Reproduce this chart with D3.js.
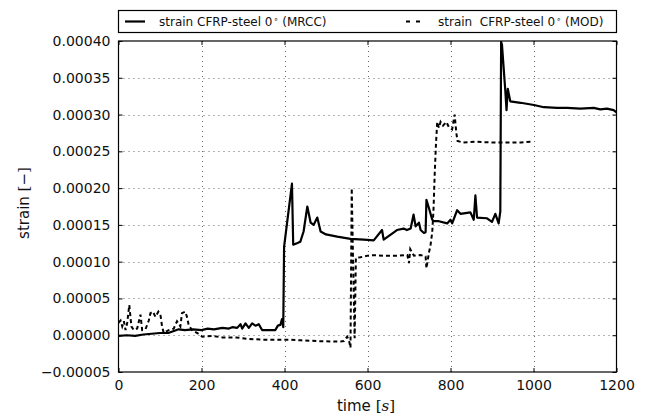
<!DOCTYPE html>
<html lang="en">
<head>
<meta charset="UTF-8"/>
<title>strain CFRP-steel</title>
<script src="https://d3js.org/d3.v7.min.js"></script>
<style>
  body { margin: 0; background: #fff; }
  svg { font-family: "DejaVu Sans", sans-serif; }
</style>
</head>
<body>
<script>
// MRCC series (solid)
var mrccTime = [0, 20, 40, 60, 80, 100, 120, 130, 145, 160, 180, 200, 215, 230, 250, 266, 274, 286, 294, 298,
    306, 314, 322, 330, 338, 346, 378, 384, 390, 394, 397, 399, 418, 421, 430, 438, 446, 455, 463, 470,
    479, 487, 500, 527, 559, 591, 615, 635, 639, 671, 687, 695, 704, 711, 716, 724, 728, 736, 740, 742,
    748, 756, 760, 772, 792, 800, 804, 816, 824, 848, 856, 860, 864, 888, 900, 908, 916, 920, 922, 924,
    932, 935, 938, 944, 969, 1001, 1025, 1057, 1081, 1113, 1145, 1161, 1177, 1193, 1200];
var mrccStrain = [-0.000001, 0.0, -0.000001, 0.000001, 0.000002, 0.000003, 0.000003, 0.000005, 0.000008, 0.000007,
    0.000008, 0.000007, 0.000009, 0.000008, 0.00001, 0.000009, 0.000011, 0.00001, 0.000015, 0.000009,
    0.000016, 0.00001, 0.000016, 0.000013, 0.000015, 0.000007, 0.000007, 0.000013, 0.000014, 0.000022,
    0.000011, 0.00012, 0.000206, 0.000123, 0.000125, 0.000127, 0.000141, 0.000175, 0.000153, 0.00015,
    0.00016, 0.000141, 0.000137, 0.000134, 0.000131, 0.00013, 0.000129, 0.000143, 0.00013, 0.000143,
    0.000145, 0.000143, 0.000145, 0.000164, 0.000148, 0.000153, 0.000143, 0.000139, 0.00014, 0.000184,
    0.000173, 0.000157, 0.000155, 0.000155, 0.000152, 0.000157, 0.000152, 0.00017, 0.000165, 0.000167,
    0.000157, 0.00019, 0.00016, 0.000159, 0.000154, 0.000165, 0.000152, 0.000168, 0.000399, 0.000395,
    0.000333, 0.000306, 0.000335, 0.000318, 0.000316, 0.000313, 0.00031, 0.000309, 0.000309, 0.000308,
    0.000309, 0.000307, 0.000308, 0.000306, 0.000303];

// MOD series (dashed)
var modTime = [0, 5, 9, 13, 17, 21, 26, 31, 37, 45, 53, 57, 65, 73, 77, 83, 89, 96, 101, 105,
    109, 121, 133, 141, 149, 153, 161, 165, 169, 177, 190, 202, 226, 250, 282, 314, 346, 378, 410, 440,
    480, 519, 535, 543, 551, 555, 559, 562, 565, 569, 572, 583, 607, 639, 672, 696, 700, 703, 712, 728,
    740, 742, 748, 752, 756, 759, 762, 765, 768, 772, 776, 782, 790, 796, 804, 810, 814, 817, 830, 860,
    900, 940, 970, 993];
var modStrain = [0.000017, 0.00002, 0.000012, 0.000019, 0.000007, 0.000017, 0.000041, 0.000012, 0.000007, 0.000009,
    0.000028, 0.000007, 0.000008, 0.00002, 0.00003, 0.000032, 0.000025, 0.000032, 0.000028, 0.000012,
    0.000003, 0.000007, 0.000009, 0.000019, 0.000012, 0.00003, 0.000032, 0.000025, 0.000014, 0.000007,
    0.000003, -0.000002, -0.000001, -0.000003, -0.000003, -0.000005, -0.000006, -0.000006, -0.000006, -0.000007,
    -0.000008, -0.0000085, -0.0000085, -0.000008, -0.000002, -0.000006, -0.000017, 0.0002, 0.000107, -0.000004,
    0.000105, 0.000106, 0.000109, 0.000108, 0.000108, 0.000109, 0.000098, 0.000117, 0.000108, 0.000109,
    0.000107, 0.000091, 0.000112, 0.000123, 0.00014, 0.00017, 0.00022, 0.00026, 0.00029, 0.000282,
    0.00029, 0.000285, 0.00029, 0.000283, 0.00028, 0.0003, 0.000275, 0.000264, 0.000262, 0.000263,
    0.000262, 0.000262, 0.000262, 0.000263];

var xTicks = [0, 200, 400, 600, 800, 1000, 1200];
var yTicks = [-0.00005, 0, 0.00005, 0.0001, 0.00015, 0.0002, 0.00025, 0.0003, 0.00035, 0.0004];

var w = 646, h = 418;
var plotLeft = 118.5, plotRight = 616.5, plotTop = 41, plotBottom = 372;

var xScale = d3.scaleLinear().domain([0, 1200]).range([plotLeft, plotRight]);
var yScale = d3.scaleLinear().domain([-0.00005, 0.0004]).range([plotBottom, plotTop]);

var svg = d3.select("body").append("svg")
    .attr("width", w)
    .attr("height", h);

/* grid */
var grid = svg.append("g").attr("stroke", "#666").attr("stroke-width", 1).attr("stroke-dasharray", "1,4");
grid.selectAll(".gx").data(xTicks.slice(1, -1)).enter().append("line")
    .attr("x1", d => Math.round(xScale(d)) + 0.5).attr("x2", d => Math.round(xScale(d)) + 0.5)
    .attr("y1", plotTop).attr("y2", plotBottom);
grid.selectAll(".gy").data(yTicks.slice(1, -1)).enter().append("line")
    .attr("y1", d => Math.round(yScale(d)) + 0.5).attr("y2", d => Math.round(yScale(d)) + 0.5)
    .attr("x1", plotLeft).attr("x2", plotRight);

/* series */
svg.append("clipPath").attr("id", "clip").append("rect")
    .attr("x", plotLeft).attr("y", plotTop).attr("width", plotRight - plotLeft).attr("height", plotBottom - plotTop);
var plot = svg.append("g").attr("clip-path", "url(#clip)");

var line = d3.line()
    .x(d => xScale(d[0]))
    .y(d => yScale(d[1]));

plot.append("path")
    .datum(modTime.map((t, i) => [t, modStrain[i]]))
    .attr("d", line)
    .attr("fill", "none")
    .attr("stroke", "#000")
    .attr("stroke-width", 2)
    .attr("stroke-dasharray", "4,3");

plot.append("path")
    .datum(mrccTime.map((t, i) => [t, mrccStrain[i]]))
    .attr("d", line)
    .attr("fill", "none")
    .attr("stroke", "#000")
    .attr("stroke-width", 2.2)
    .attr("stroke-linejoin", "round");

/* axes */
var fmt = d3.format(".5f");
var axisFont = "14px";

svg.append("g")
    .attr("transform", "translate(0," + plotBottom + ")")
    .call(d3.axisBottom(xScale).tickValues(xTicks).tickSize(-4).tickPadding(8).tickFormat(d3.format("d")))
    .call(g => g.select(".domain").remove())
    .selectAll("text").attr("font-size", axisFont).attr("fill", "#111").attr("font-family", "DejaVu Sans");

svg.append("g")
    .attr("transform", "translate(0," + plotTop + ")")
    .call(d3.axisTop(xScale).tickValues(xTicks).tickSize(-4).tickFormat(""))
    .call(g => g.select(".domain").remove());

svg.append("g")
    .attr("transform", "translate(" + plotLeft + ",0)")
    .call(d3.axisLeft(yScale).tickValues(yTicks).tickSize(-4).tickPadding(8).tickFormat(d => fmt(d).replace("-", "\u2212")))
    .call(g => g.select(".domain").remove())
    .selectAll("text").attr("font-size", axisFont).attr("fill", "#111").attr("font-family", "DejaVu Sans");

svg.append("g")
    .attr("transform", "translate(" + plotRight + ",0)")
    .call(d3.axisRight(yScale).tickValues(yTicks).tickSize(-4).tickFormat(""))
    .call(g => g.select(".domain").remove());

svg.selectAll(".tick line").attr("stroke", "#000");

svg.append("rect")
    .attr("x", plotLeft).attr("y", plotTop)
    .attr("width", plotRight - plotLeft).attr("height", plotBottom - plotTop)
    .attr("fill", "none").attr("stroke", "#000").attr("stroke-width", 1.2);

/* axis labels */
var xl = svg.append("text")
    .attr("x", 366).attr("y", 411)
    .attr("text-anchor", "middle").attr("font-size", "15px").attr("fill", "#111");
xl.append("tspan").text("time ");
xl.append("tspan").attr("font-family", "DejaVu Serif").text("[");
xl.append("tspan").attr("font-family", "DejaVu Serif").attr("font-style", "italic").text("s");
xl.append("tspan").attr("font-family", "DejaVu Serif").text("]");

var yl = svg.append("text")
    .attr("transform", "translate(29,203) rotate(-90)")
    .attr("text-anchor", "middle").attr("font-size", "15px").attr("fill", "#111");
yl.append("tspan").text("strain ");
yl.append("tspan").attr("font-family", "DejaVu Serif").text("[\u2212]");

/* legend */
var legend = svg.append("g");
legend.append("rect")
    .attr("x", plotLeft).attr("y", 10.5).attr("width", plotRight - plotLeft).attr("height", 22)
    .attr("fill", "#fff").attr("stroke", "#000").attr("stroke-width", 1.2);

legend.append("line")
    .attr("x1", 125).attr("x2", 145).attr("y1", 21.5).attr("y2", 21.5)
    .attr("stroke", "#000").attr("stroke-width", 2.2);
var t1 = legend.append("text").attr("x", 159).attr("y", 26).attr("font-size", "12px").attr("fill", "#111");
t1.append("tspan").text("strain CFRP-steel 0");
t1.append("tspan").attr("font-size", "8px").attr("dy", "-4").attr("dx", "1").text("\u2218");
t1.append("tspan").attr("dy", "4").text(" (MRCC)");

legend.append("line")
    .attr("x1", 406).attr("x2", 424).attr("y1", 21.5).attr("y2", 21.5)
    .attr("stroke", "#000").attr("stroke-width", 2).attr("stroke-dasharray", "4,6");
var t2 = legend.append("text").attr("x", 438).attr("y", 26).attr("font-size", "12px").attr("fill", "#111")
    .style("white-space", "pre");
t2.append("tspan").text("strain  CFRP-steel 0");
t2.append("tspan").attr("font-size", "8px").attr("dy", "-4").attr("dx", "1").text("\u2218");
t2.append("tspan").attr("dy", "4").text(" (MOD)");
</script>
</body>
</html>
